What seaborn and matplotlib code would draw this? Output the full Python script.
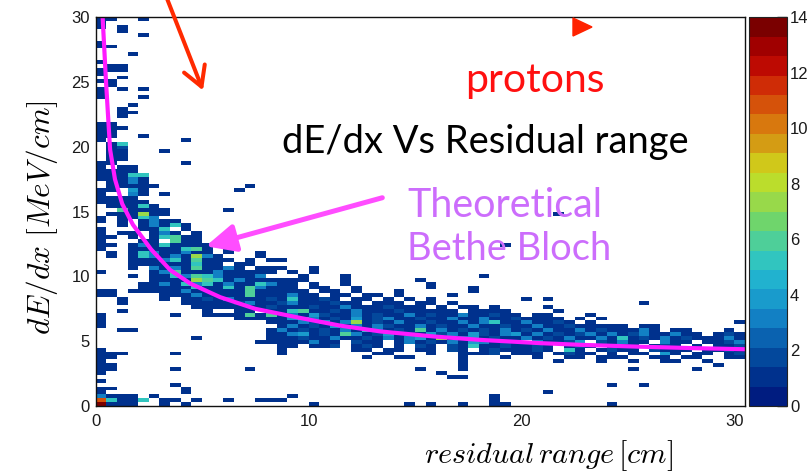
import numpy as np
import pandas as pd
import matplotlib
matplotlib.use("Agg")
import matplotlib.pyplot as plt
from matplotlib.colors import ListedColormap
from matplotlib.patches import FancyArrowPatch, Polygon
from matplotlib.ticker import MultipleLocator
import seaborn as sns

# ---------------------------------------------------------------------------
# 2D histogram of dE/dx vs residual range (proton candidates)
# ---------------------------------------------------------------------------
X_BIN = 0.5      # residual range bin width [cm]
Y_BIN = 0.3      # dE/dx bin width [MeV/cm]
N_XBINS = 61
N_YBINS = 100
DEDX_MAX = 30.0

# Cell contents, one string per dE/dx bin from the top (30 MeV/cm) down to 0.
# '.' empty, '1'-'9' entries, 'a'-'e' = 10-14; '|' splits every 10 range bins.
counts_rows = [
    "11..1",
    "1",
    "1.1",
    "..1",
    "....1",
    "",
    "1",
    "11",
    "",
    "...1",
    "",
    "1",
    ".11",
    "111",
    "1",
    "..1",
    "11",
    ".1",
    "1.1.1",
    "1",
    "1...1",
    "",
    "...1",
    "..1",
    "..11",
    "..1",
    "",
    "11",
    "111",
    "11",
    "11..1",
    "1.......1",
    ".15",
    ".12",
    ".11...1",
    ".11",
    ".11",
    "11......1",
    "1.11",
    "1111",
    "11155",
    "11131",
    ".1131",
    ".11111....|....1",
    "11.41.....|...1",
    "1..31.1",
    "1111",
    "11111",
    ".11151",
    "..61111...|..1",
    ".111711...|..........|..........|..........|...1",
    "1.1153",
    "1.1.1311",
    "..1.13151",
    "1...115.1",
    "1.11.131.1",
    "11.1.15611",
    "1...11.611",
    "11.1315111|1.........|..........|........1",
    "1..1111156|1.1",
    ".1.1531131|1.1..1",
    ".1.1531317|31...1",
    "...1113516|111.1.11",
    "...1111115|11.11",
    "...1.31316|1131.111..|1",
    "1....13611|1311111.1.|1",
    "...1.11536|531113...1|...1......|......1",
    ".....11117|6513111111|...1......|1",
    "....113153|513115311.|1..1......|.1",
    "....111115|115163111.|11..1.....|.1...1",
    "11.1111131|1111611111|.11.1...1.|.....1",
    "11....1113|1111611131|1.11.11.1.|...1",
    "..1...1.11|2131112151|121.11.1.1|.1........|1.1",
    "..1.....11|1112311231|11211.111.|11.1......|..........|.1",
    ".........1|1111112111|2113111211|1.1.11.1..|..1",
    "..1.......|1..11.1156|1121311121|1111.1111.|...1",
    "1......1..|1111616131|4211312113|1211311211|.11...1",
    "1.........|...1111145|3121412311|2113113112|1111.1.1",
    "1.........|......1113|2413712131|1211313511|31121.1...|..........|1",
    "1.........|.......131|2141313211|3121131121|1311211111|.11",
    "..11......|......1312|1213153121|6131212131|2131131211|131.11...1",
    "..........|......1134|1216312412|1423142134|1312123131|2311311.12|1",
    ".........1|......1112|1131121313|4171341211|3121311315|1213121113|1",
    "..........|.....11111|311.211.13|1213143121|.31124.213|11.311.112|3",
    "..........|.......11.|112.121.1.|21.2151121|121.121.12|1.121.1.11|2",
    "1.........|.......1..|....11.11.|11.21.1211|121.51.121|1.2111.112|1",
    "111....1..|.......1..|......11..|.1..1112.1|11.1211.1.|11.41.11.1|2",
    "11........|..........|.....1..11|....1...1.|.1..11.111|..11.11..1|1",
    "1.........|..........|..........|....1.....|...1...1..|1..11..1",
    "11........|..........|..........|....1.....|..........|........1",
    "11.....1..|....1.....|..........|1...1.....|..........|1.....1",
    "1.........|..........|..........|..1",
    "..........|..........|..........|...11",
    "1",
    ".......1..|..........|..........|..........|........1.|.1",
    "11......1",
    "1.......1.|..........|..........|..........|..1",
    "3111.1....|........1.|..........|.......1",
    "b5115.11.1|..1..111..|..........|.......1",
    "e111..1.1.|..........|1........1|.1..1..11.|........1",
]

# Theoretical Bethe-Bloch expectation for protons
bb_range = [0.33, 0.49, 0.68, 0.91, 1.25, 1.75, 2.6, 3.5, 4.45, 5.85, 7.5,
            9.6, 11.5, 13.4, 16.0, 18.1, 20.9, 22.8, 25.5, 28.0, 30.5]
bb_dedx = [30.0, 25.0, 19.8, 17.5, 15.6, 14.0, 12.1, 10.5, 9.45, 8.4, 7.5,
           6.8, 6.2, 5.75, 5.35, 5.1, 4.85, 4.72, 4.58, 4.47, 4.38]

# 20-level palette, 0 -> 14 entries
palette_colors = ["#001c80", "#00318d", "#03489c", "#0a62b0", "#1280c4",
                  "#199bcc", "#21b2cf", "#31c5bf", "#4ecf99", "#6fd56c",
                  "#98d94a", "#bbdd2c", "#d0c81a", "#d49c14", "#d8780e",
                  "#d5520a", "#cf2c06", "#bd0a02", "#a00000", "#7a0000"]
z_max = 14
cbar_ticks = [0, 2, 4, 6, 8, 10, 12, 14]
x_ticks = [0, 10, 20, 30]
y_ticks = [0, 5, 10, 15, 20, 25, 30]

# ---------------------------------------------------------------------------
records = []
for k, row in enumerate(counts_rows):
    for i, ch in enumerate(row.replace("|", "")):
        if ch != ".":
            records.append(((i + 0.5) * X_BIN,
                            DEDX_MAX - (k + 0.5) * Y_BIN,
                            int(ch, 16)))
df = pd.DataFrame(records, columns=["range", "dedx", "entries"])
x_edges = np.arange(N_XBINS + 1) * X_BIN
y_edges = np.arange(N_YBINS + 1) * Y_BIN

sns.set_style("white")
plt.rcParams["font.family"] = ["Liberation Sans", "DejaVu Sans"]
plt.rcParams["mathtext.fontset"] = "cm"

W, H = 812, 476
fig = plt.figure(figsize=(W / 100, H / 100), dpi=100)


def fx(px):
    return px / W


def fy(py):
    return 1 - py / H


ax = fig.add_axes([fx(95.6), fy(406), (745 - 95.6) / W, (406 - 17.3) / H])
cax = fig.add_axes([fx(749.3), fy(406), 38 / W, (406 - 17.3) / H])

cmap = ListedColormap(palette_colors)
sns.histplot(data=df, x="range", y="dedx", weights="entries",
             bins=(x_edges, y_edges), cmap=cmap, vmin=0, vmax=z_max,
             cbar=True, cbar_ax=cax, ax=ax)

sns.lineplot(x=bb_range, y=bb_dedx, ax=ax, color="#ff1aff", lw=3.0,
             sort=False, legend=False)

ax.set_xlim(0, N_XBINS * X_BIN)
ax.set_ylim(0, DEDX_MAX)
ax.set_xlabel("")
ax.set_ylabel("")
ax.set_xticks(x_ticks)
ax.set_yticks(y_ticks)
ax.xaxis.set_minor_locator(MultipleLocator(2))
ax.yaxis.set_minor_locator(MultipleLocator(1))
ax.tick_params(axis="x", which="major", direction="in", length=8, width=1,
               labelsize=12, pad=6, colors="#1a1a1a")
ax.tick_params(axis="x", which="minor", direction="in", length=4, width=1)
ax.tick_params(axis="y", which="major", direction="in", length=18, width=1,
               labelsize=12, pad=4, colors="#1a1a1a")
ax.tick_params(axis="y", which="minor", direction="in", length=9, width=1)
ax.tick_params(top=False, right=False, which="both")
for sp in ax.spines.values():
    sp.set_color("#111111")
    sp.set_linewidth(1.0)

cb = ax.collections[0].colorbar
cb.set_ticks(cbar_ticks)
cb.outline.set_linewidth(0.8)
cb.outline.set_edgecolor("#222222")
cax.tick_params(direction="in", length=7, width=1, labelsize=12, pad=2,
                right=True, left=False, colors="#1a1a1a")

# ---------------------------------------------------------------------------
renderer = fig.canvas.get_renderer()


def fit_text(x, y, s, target, dim="w", **kw):
    t = fig.text(fx(x), fy(y), s, fontsize=20, **kw)
    bb = t.get_window_extent(renderer)
    cur = bb.width if dim == "w" else bb.height
    t.set_fontsize(20 * target / cur)
    return t


fit_text(42, 218, r"$dE/dx\ [MeV/cm]$", 235, dim="h", rotation=90,
         ha="center", va="center", color="black")
fit_text(548, 456, r"$residual\,range\,[cm]$", 249, ha="center",
         va="center", color="black")

ann_font = ["Lato", "DejaVu Sans"]
fit_text(465, 92, "protons", 140, ha="left", va="baseline",
         color="#ff1010", family=ann_font)
fit_text(282, 153, "dE/dx Vs Residual range", 408, ha="left",
         va="baseline", color="black", family=ann_font)
fit_text(407, 217, "Theoretical", 196, ha="left", va="baseline",
         color="#cc6dfc", family=ann_font)
fit_text(407, 260, "Bethe Bloch", 204, ha="left", va="baseline",
         color="#cc6dfc", family=ann_font)

# arrows and marker
red_arrow = FancyArrowPatch((fx(166), fy(-4)), (fx(204), fy(93)),
                            transform=fig.transFigure,
                            arrowstyle="->,head_length=1.4,head_width=0.8",
                            mutation_scale=10, lw=2.9, color="#ff2a00")
fig.add_artist(red_arrow)
bb_arrow = FancyArrowPatch((fx(385), fy(197)), (fx(203), fy(247)),
                           transform=fig.transFigure,
                           arrowstyle="-|>,head_length=1.5,head_width=0.7",
                           mutation_scale=12, lw=3.6, color="#ff4dff")
fig.add_artist(bb_arrow)
tri = Polygon([(fx(573), fy(18)), (fx(573), fy(36)), (fx(592), fy(27))],
              closed=True, transform=fig.transFigure, color="#ff2200")
fig.add_artist(tri)

fig.savefig("out.png", dpi=100)
